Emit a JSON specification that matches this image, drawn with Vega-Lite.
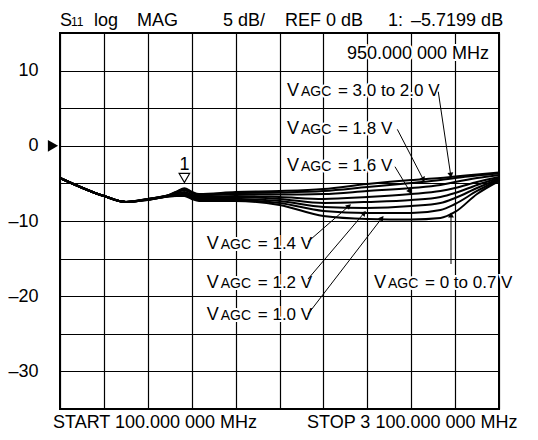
{
  "$schema": "https://vega.github.io/schema/vega-lite/v6.json",
  "width": 439,
  "height": 376,
  "autosize": {"type": "none"},
  "padding": {"left": 60, "top": 33, "right": 39, "bottom": 31},
  "background": "white",
  "config": {
    "view": {"stroke": "black", "strokeWidth": 2},
    "text": {"font": "Liberation Sans", "color": "black"},
    "axis": {"labelFont": "Liberation Sans"}
  },
  "datasets": {
    "curves": [
      {"f": 100, "c1": -4.28, "c2": -4.28, "c3": -4.28, "c4": -4.28, "c5": -4.28, "c6": -4.28, "c7": -4.28, "c8": -4.28},
      {"f": 400, "c1": -6.68, "c2": -6.68, "c3": -6.68, "c4": -6.68, "c5": -6.68, "c6": -6.68, "c7": -6.68, "c8": -6.68},
      {"f": 550, "c1": -7.47, "c2": -7.47, "c3": -7.47, "c4": -7.47, "c5": -7.47, "c6": -7.47, "c7": -7.47, "c8": -7.47},
      {"f": 700, "c1": -7.07, "c2": -7.07, "c3": -7.07, "c4": -7.07, "c5": -7.14, "c6": -7.14, "c7": -7.21, "c8": -7.21},
      {"f": 850, "c1": -6.5, "c2": -6.5, "c3": -6.55, "c4": -6.6, "c5": -6.65, "c6": -6.7, "c7": -6.7, "c8": -6.7},
      {"f": 900, "c1": -6.05, "c2": -6.1, "c3": -6.2, "c4": -6.35, "c5": -6.5, "c6": -6.6, "c7": -6.65, "c8": -6.68},
      {"f": 950, "c1": -5.65, "c2": -5.75, "c3": -5.9, "c4": -6.15, "c5": -6.35, "c6": -6.5, "c7": -6.6, "c8": -6.68},
      {"f": 1000, "c1": -6.1, "c2": -6.2, "c3": -6.3, "c4": -6.5, "c5": -6.68, "c6": -6.81, "c7": -6.94, "c8": -7.07},
      {"f": 1050, "c1": -6.4, "c2": -6.5, "c3": -6.6, "c4": -6.75, "c5": -6.9, "c6": -7.0, "c7": -7.15, "c8": -7.34},
      {"f": 1300, "c1": -6.14, "c2": -6.28, "c3": -6.41, "c4": -6.68, "c5": -6.81, "c6": -7.07, "c7": -7.21, "c8": -7.34},
      {"f": 1600, "c1": -6.01, "c2": -6.21, "c3": -6.48, "c4": -6.81, "c5": -7.07, "c6": -7.34, "c7": -7.61, "c8": -7.87},
      {"f": 1900, "c1": -5.74, "c2": -6.01, "c3": -6.41, "c4": -7.07, "c5": -7.61, "c6": -8.14, "c7": -8.67, "c8": -9.34},
      {"f": 2200, "c1": -5.08, "c2": -5.48, "c3": -6.01, "c4": -6.81, "c5": -7.47, "c6": -8.27, "c7": -8.94, "c8": -9.73},
      {"f": 2500, "c1": -4.55, "c2": -4.95, "c3": -5.61, "c4": -6.41, "c5": -7.21, "c6": -8.01, "c7": -8.94, "c8": -9.8},
      {"f": 2700, "c1": -4.28, "c2": -4.55, "c3": -5.21, "c4": -6.01, "c5": -6.81, "c6": -7.61, "c7": -8.54, "c8": -9.6},
      {"f": 2800, "c1": -4.08, "c2": -4.28, "c3": -4.81, "c4": -5.61, "c5": -6.28, "c6": -6.94, "c7": -7.74, "c8": -8.8},
      {"f": 2950, "c1": -3.82, "c2": -3.95, "c3": -4.28, "c4": -4.81, "c5": -5.21, "c6": -5.61, "c7": -6.01, "c8": -6.41},
      {"f": 3100, "c1": -3.55, "c2": -3.68, "c3": -3.88, "c4": -4.15, "c5": -4.28, "c6": -4.41, "c7": -4.55, "c8": -4.68}
    ],
    "labels": [
      {"f": 1651, "db": 6.62, "rest": "= 3.0 to 2.0 V"},
      {"f": 1651, "db": 1.57, "rest": "= 1.8 V"},
      {"f": 1651, "db": -3.31, "rest": "= 1.6 V"},
      {"f": 1103, "db": -13.72, "rest": "= 1.4 V"},
      {"f": 1103, "db": -18.91, "rest": "= 1.2 V"},
      {"f": 1103, "db": -23.16, "rest": "= 1.0 V"},
      {"f": 2246, "db": -18.91, "rest": "= 0 to 0.7 V"}
    ],
    "leaders": [
      {"f": 2770, "db": -3.9, "f2": 2685, "db2": 7.19},
      {"f": 2583, "db": -4.5, "f2": 2405, "db2": 2.19},
      {"f": 2492, "db": -6.1, "f2": 2389, "db2": -2.78},
      {"f": 2075, "db": -8.0, "f2": 1795, "db2": -12.75},
      {"f": 2178, "db": -8.94, "f2": 1795, "db2": -17.71},
      {"f": 2300, "db": -9.6, "f2": 1795, "db2": -22.37},
      {"f": 2772, "db": -9.2, "f2": 2772, "db2": -15.72}
    ],
    "header": [
      {"f": 100, "db": 15.93, "t": "S"},
      {"f": 332, "db": 15.93, "t": "log"},
      {"f": 626, "db": 15.93, "t": "MAG"},
      {"f": 1214, "db": 15.93, "t": "5 dB/"},
      {"f": 1638, "db": 15.93, "t": "REF 0 dB"},
      {"f": 2342, "db": 15.93, "t": "1:"},
      {"f": 2499, "db": 15.93, "t": "–5.7199 dB"},
      {"f": 52, "db": -37.53, "t": "START 100.000 000 MHz"},
      {"f": 1788, "db": -37.53, "t": "STOP 3 100.000 000 MHz"}
    ]
  },
  "encoding": {
    "x": {
      "field": "f", "type": "quantitative",
      "scale": {"domain": [100, 3100], "nice": false, "zero": false},
      "axis": {
        "values": [100, 400, 700, 1000, 1300, 1600, 1900, 2200, 2500, 2800, 3100],
        "labels": false, "ticks": false, "domain": false, "title": null,
        "grid": true, "gridColor": "black", "gridWidth": 1.2, "gridOpacity": 1
      }
    },
    "y": {
      "field": "db", "type": "quantitative",
      "scale": {"domain": [-35, 15], "nice": false, "zero": false},
      "axis": {
        "values": [-35, -30, -25, -20, -15, -10, -5, 0, 5, 10, 15],
        "labelExpr": "(datum.value % 10 == 0 && datum.value < 15) ? (datum.value < 0 ? '–' + abs(datum.value) : '' + datum.value) : ''",
        "labelOverlap": false, "labelBound": false,
        "ticks": false, "domain": false, "title": null,
        "grid": true, "gridColor": "black", "gridWidth": 1.2, "gridOpacity": 1,
        "labelFontSize": 18, "labelColor": "black", "labelPadding": 22, "labelBaseline": "middle"
      }
    }
  },
  "layer": [
    {
      "data": {"name": "labels"},
      "mark": {"type": "text", "align": "left", "baseline": "alphabetic", "fontSize": 18, "fill": "white", "stroke": "white", "strokeWidth": 4},
      "encoding": {"text": {"value": "V"}}
    },
    {
      "data": {"name": "labels"},
      "mark": {"type": "text", "align": "left", "baseline": "alphabetic", "fontSize": 14, "dx": 14, "fill": "white", "stroke": "white", "strokeWidth": 4},
      "encoding": {"text": {"value": "AGC"}}
    },
    {
      "data": {"name": "labels"},
      "mark": {"type": "text", "align": "left", "baseline": "alphabetic", "fontSize": 17, "dx": 51, "fill": "white", "stroke": "white", "strokeWidth": 4},
      "encoding": {"text": {"field": "rest"}}
    },
    {
      "data": {"values": [{"f": 3032, "db": 11.54, "t": "950.000 000 MHz"}]},
      "mark": {"type": "text", "align": "right", "baseline": "alphabetic", "fontSize": 18, "fill": "white", "stroke": "white", "strokeWidth": 4},
      "encoding": {"text": {"field": "t"}}
    },
    {
      "data": {"name": "curves"},
      "transform": [{"fold": ["c1", "c2", "c3", "c4", "c5", "c6", "c7", "c8"], "as": ["curve", "db"]}],
      "mark": {"type": "line", "interpolate": "monotone", "color": "black", "strokeWidth": 2},
      "encoding": {"detail": {"field": "curve"}}
    },
    {
      "data": {"name": "leaders"},
      "mark": {"type": "rule", "color": "black", "strokeWidth": 1},
      "encoding": {"x2": {"field": "f2"}, "y2": {"field": "db2"}}
    },
    {
      "data": {"name": "leaders"},
      "transform": [{"calculate": "atan2((datum.f - datum.f2) * 439 / 3000, (datum.db - datum.db2) * 376 / 50) * 180 / PI", "as": "ang"}],
      "mark": {"type": "point", "shape": "triangle-up", "filled": true, "color": "black", "size": 35, "opacity": 1},
      "encoding": {"angle": {"field": "ang", "type": "quantitative", "scale": null}}
    },
    {
      "data": {"name": "labels"},
      "mark": {"type": "text", "align": "left", "baseline": "alphabetic", "fontSize": 18},
      "encoding": {"text": {"value": "V"}}
    },
    {
      "data": {"name": "labels"},
      "mark": {"type": "text", "align": "left", "baseline": "alphabetic", "fontSize": 14, "dx": 14},
      "encoding": {"text": {"value": "AGC"}}
    },
    {
      "data": {"name": "labels"},
      "mark": {"type": "text", "align": "left", "baseline": "alphabetic", "fontSize": 17, "dx": 51},
      "encoding": {"text": {"field": "rest"}}
    },
    {
      "data": {"values": [{"f": 3032, "db": 11.54, "t": "950.000 000 MHz"}]},
      "mark": {"type": "text", "align": "right", "baseline": "alphabetic", "fontSize": 18},
      "encoding": {"text": {"field": "t"}}
    },
    {
      "data": {"name": "header"},
      "mark": {"type": "text", "align": "left", "baseline": "alphabetic", "fontSize": 18},
      "encoding": {"text": {"field": "t"}}
    },
    {
      "data": {"values": [{"f": 175, "db": 15.93, "t": "11"}]},
      "mark": {"type": "text", "align": "left", "baseline": "alphabetic", "fontSize": 12},
      "encoding": {"text": {"field": "t"}}
    },
    {
      "data": {"values": [{"f": 950, "db": -4.28}]},
      "mark": {"type": "point", "shape": "triangle-down", "filled": true, "fill": "white", "stroke": "black", "strokeWidth": 1.2, "size": 110, "opacity": 1},
      "encoding": {}
    },
    {
      "data": {"values": [{"f": 950, "db": -3.22, "t": "1"}]},
      "mark": {"type": "text", "align": "center", "baseline": "alphabetic", "fontSize": 18},
      "encoding": {"text": {"field": "t"}}
    },
    {
      "data": {"values": [{"f": 52, "db": 0}]},
      "mark": {"type": "point", "shape": "triangle-right", "filled": true, "color": "black", "size": 140, "opacity": 1},
      "encoding": {}
    }
  ]
}
